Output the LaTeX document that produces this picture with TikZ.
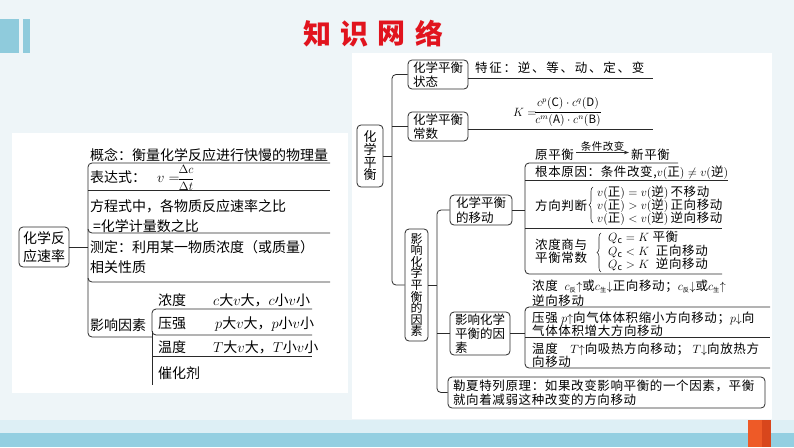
\documentclass[tikz,border=0pt]{standalone}
\usepackage{amsmath}
\usepackage{fontspec}
\setmainfont{Noto Sans CJK SC}
\newfontfamily\rf[LetterSpace=5]{Noto Sans CJK SC}
\newfontfamily\rfw[LetterSpace=14]{Noto Sans CJK SC}
\usetikzlibrary{arrows.meta,decorations.pathreplacing}
\definecolor{bgcol}{HTML}{EEF5F8}
\definecolor{barblue}{HTML}{8FCBDC}
\definecolor{stripl}{HTML}{DDEFF5}
\definecolor{stripd}{HTML}{93CFE1}
\definecolor{orng}{HTML}{EE5A27}
\definecolor{orngd}{HTML}{D8461C}
\definecolor{ttlcol}{HTML}{E1141E}
\definecolor{lncol}{HTML}{2A2A2A}
\begin{document}
\begin{tikzpicture}[x=1pt,y=-1pt,
  cline/.style={draw=lncol,line width=0.8pt},
  rc/.style={cline,rounded corners=4pt},
  lt/.style={anchor=base west,inner sep=0pt,yshift=-5.3pt,font=\fontsize{14}{17}\selectfont},
  rt/.style={anchor=base west,inner sep=0pt,yshift=-4.75pt,font=\rf\fontsize{12.5}{15}\selectfont},
  bx/.style={draw=lncol,line width=0.8pt,rounded corners=4pt,inner sep=1pt,align=left},
  ttl/.style={text=ttlcol,font=\fontsize{28}{30}\selectfont\bfseries,inner sep=0pt}]
% background
\fill[bgcol] (0,0) rectangle (794,447);
\useasboundingbox (0,0) rectangle (794,447);
\fill[barblue] (0,19) rectangle (19,53);
\fill[barblue] (23,19) rectangle (30,53);
\fill[white] (12,133) rectangle (348,393);
\fill[white] (352,53) rectangle (772,419);
\fill[stripl] (0,420) rectangle (794,433);
\fill[stripd] (0,433) rectangle (794,447);
\fill[orng] (748,420) rectangle (762,447);
\fill[orngd] (762,420) rectangle (771,447);
% title
\node[ttl] (t1) at (317,34) {知};
\node[ttl] (t2) at (354,34) {识};
\node[ttl] (t3) at (391,34) {网};
\node[ttl] (t4) at (429,34) {络};

% ================= left diagram =================
\node[bx,align=center,minimum width=50pt,minimum height=40pt,font=\fontsize{14}{18}\selectfont] (lbox) at (44,247) {化学反\\应速率};
\coordinate (lx) at (88,0);
\draw[cline] (lbox.east) -- (lbox.east -| lx);
\draw[rc] (330,163) -- (88,163) -- (88,233) -- (330,233);
\draw[cline] (88,190) -- (330,190);
\draw[rc] (88,229) -- (88,282) -- (330,282);
\draw[rc] (88,278) -- (88,337) -- (152,337);
\draw[rc] (312,309) -- (152,309) -- (152,335) -- (312,335);
\draw[cline] (152,356) -- (312,356);
\draw[cline] (152,331) -- (152,385);

\node[lt] (gn) at (90,155) {概念：衡量化学反应进行快慢的物理量};
\node[lt] (bd) at (90,177) {表达式：};
\node[lt] (bdv) at (157,177) {$v=$};
\node[inner sep=0pt,font=\fontsize{13}{15}\selectfont] (bdf) at (186,178) {$\dfrac{\Delta c}{\Delta t}$};
\node[lt] (fc1) at (90,206) {方程式中，各物质反应速率之比};
\node[lt] (fc2) at (93,226) {=化学计量数之比};
\node[lt] (cd1) at (90,247) {测定：利用某一物质浓度（或质量）};
\node[lt] (cd2) at (90,267) {相关性质};
\node[lt] (yx) at (90,325) {影响因素};
\node[lt] (nd) at (158,300) {浓度};
\node[lt] (ndv) at (213,300) {$c$大$v$大，$c$小$v$小};
\node[lt] (yq) at (158,323) {压强};
\node[lt] (yqv) at (215,323) {$p$大$v$大，$p$小$v$小};
\node[lt] (wd) at (158,347) {温度};
\node[lt] (wdv) at (213,347) {$T$大$v$大，$T$小$v$小};
\node[lt] (chj) at (158,373) {催化剂};

% ================= right diagram =================
\node[bx,align=center,minimum width=26pt,minimum height=62pt,font=\fontsize{13}{12.7}\selectfont] (vb) at (370,156) {化\\学\\平\\衡};
\node[bx,minimum width=60pt,minimum height=29pt,font=\fontsize{12.5}{14.5}\selectfont] (s1) at (438,74.5) {化学平衡\\状态};
\node[bx,minimum width=60pt,minimum height=29pt,font=\fontsize{12.5}{14.5}\selectfont] (s2) at (438,126.5) {化学平衡\\常数};
\node[bx,align=center,minimum width=23pt,minimum height=112pt,font=\fontsize{12}{11.6}\selectfont] (f) at (416.5,285) {影\\响\\化\\学\\平\\衡\\的\\因\\素};
\node[bx,minimum width=62pt,minimum height=30pt,font=\fontsize{12.5}{15}\selectfont] (m) at (481,210) {化学平衡\\的移动};
\node[bx,minimum width=60pt,minimum height=43pt,font=\fontsize{12.5}{14}\selectfont] (fac) at (480,333.5) {影响化学\\平衡的因\\素};
\node[bx,inner xsep=5pt,text width=307pt,minimum height=31pt,font=\rf\fontsize{12.5}{13.5}\selectfont] (l) at (606.5,392.5) {勒夏特列原理：如果改变影响平衡的一个因素，平衡\\就向着减弱这种改变的方向移动};

\coordinate (bx1) at (392,0);
\coordinate (bx2) at (437,0);
\coordinate (bx3) at (525,0);
\draw[rc] (s1.west) -- (s1.west -| bx1) -- (f.west -| bx1) -- (f.west);
\draw[cline] (s2.west) -- (s2.west -| bx1);
\draw[cline] (vb.east) -- (vb.east -| bx1);
\draw[rc] (m.west) -- (m.west -| bx2) -- (l.west -| bx2) -- (l.west);
\draw[cline] (fac.west) -- (fac.west -| bx2);
\draw[cline] (f.east) -- (f.east -| bx2);
\draw[cline] (m.east) -- (m.east -| bx3);
\draw[cline] (fac.east) -- (fac.east -| bx3);

\draw[cline] (468,78) -- (653,78);
\draw[cline] (468,129) -- (653,129);
\draw[rc] (678,163) -- (525,163) -- (525,274) -- (722,274);
\draw[cline] (525,180) -- (728,180);
\draw[cline] (525,228) -- (722,228);
\draw[rc] (770,307) -- (525,307) -- (525,368) -- (770,368);
\draw[cline] (525,337) -- (770,337);

\node[anchor=base west,inner sep=0pt,yshift=-4.75pt,font=\rfw\fontsize{12.5}{15}\selectfont] (tz) at (475,68) {特征：逆、等、动、定、变};
\node[inner sep=0pt,anchor=west,font=\fontsize{12}{14}\selectfont] (kk) at (513,112) {$K=$};
\node[inner sep=0pt,font=\fontsize{11.5}{14}\selectfont] (kf) at (568,112) {$\dfrac{c^{p}(\mathrm{C})\cdot c^{q}(\mathrm{D})}{c^{m}(\mathrm{A})\cdot c^{n}(\mathrm{B})}$};

\node[rt] (yp) at (535,155) {原平衡};
\node[rt] (xp) at (631,155) {新平衡};
\draw[cline,-{Stealth[length=5pt,width=3.5pt]}] ([xshift=2pt,yshift=2.5pt]yp.east) -- ([xshift=-2pt,yshift=2.5pt]xp.west) node[midway,above=1pt,inner sep=0pt,font=\rf\fontsize{10.5}{12}\selectfont] (tj) {条件改变};
\node[rt] (gb) at (535,172) {根本原因：条件改变,$v(\text{正})\neq v(\text{逆})$};
\node[rt] (fx) at (535,206) {方向判断};
\draw[cline,line width=0.6pt,decorate,decoration={brace,amplitude=4pt}] (593,223) -- (593,187);
\node[rt] (fx1) at (597,192) {$v(\text{正})=v(\text{逆})$\,不移动};
\node[rt] (fx2) at (597,205) {$v(\text{正})>v(\text{逆})$\,正向移动};
\node[rt] (fx3) at (597,218) {$v(\text{正})<v(\text{逆})$\,逆向移动};
\node[rt] (ns1) at (535,245) {浓度商与};
\node[rt] (ns2) at (535,258) {平衡常数};
\draw[cline,line width=0.6pt,decorate,decoration={brace,amplitude=4pt}] (601,272) -- (601,233);
\node[rt] (q1) at (608,237) {$Q_{\mathrm{c}}=K$ 平衡};
\node[rt] (q2) at (608,251) {$Q_{\mathrm{c}}<K$\ \ 正向移动};
\node[rt] (q3) at (608,264) {$Q_{\mathrm{c}}>K$\ \ 逆向移动};

\node[rt] (n1) at (532,286) {浓度\ \ $c_{\scriptscriptstyle\text{反}}{\uparrow}$或$c_{\scriptscriptstyle\text{生}}{\downarrow}$正向移动；$c_{\scriptscriptstyle\text{反}}{\downarrow}$或$c_{\scriptscriptstyle\text{生}}{\uparrow}$};
\node[rt] (n2) at (532,301) {逆向移动};
\node[rt] (p1) at (532,318) {压强\ $p{\uparrow}$向气体体积缩小方向移动；$p{\downarrow}$向};
\node[rt] (p2) at (532,331) {气体体积增大方向移动};
\node[rt] (w1) at (532,349) {温度\quad$T{\uparrow}$向吸热方向移动；\ $T{\downarrow}$向放热方};
\node[rt] (w2) at (532,362) {向移动};
\end{tikzpicture}
\end{document}
